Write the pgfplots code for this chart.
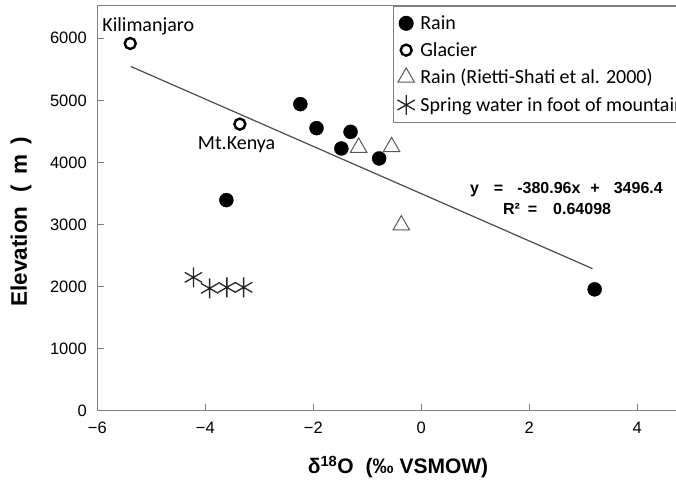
\documentclass[border=0pt]{standalone}
\usepackage{fontspec}
\setmainfont{Liberation Sans}
\newfontfamily\calib{Carlito}
\usepackage{pgfplots}
\pgfplotsset{compat=1.18}
\definecolor{axgray}{gray}{0.5}
\definecolor{trigray}{gray}{0.35}
\begin{document}
\begin{tikzpicture}[x=1pt,y=1pt]
\begin{axis}[
  at={(97.3pt,73.3pt)}, anchor=south west,
  scale only axis, width=578.7pt, height=405pt,
  xmin=-6, xmax=4.717, ymin=0, ymax=6525,
  axis x line=box, axis y line=left,
  axis line style={axgray, line width=1.1pt, -},
  xtick pos=bottom, ytick pos=left,
  tick align=inside, major tick length=7pt,
  tick style={axgray, line width=0.9pt},
  xtick={-6,-4,-2,0,2,4},
  xticklabels={−6,−4,−2,0,2,4},
  ytick={0,1000,2000,3000,4000,5000,6000},
  yticklabels={0,1000,2000,3000,4000,5000,6000},
  ticklabel style={font=\fontsize{16.5}{17}\selectfont},
  xticklabel style={yshift=-8pt},
  yticklabel style={xshift=-7pt},
  xlabel={\textbf{δ\textsuperscript{18}O\hspace{12pt}(‰ VSMOW)}},
  ylabel={\textbf{Elevation\hspace{14pt}(\hspace{10pt}m\hspace{10pt})}},
  xlabel style={font=\fontsize{21}{22}\selectfont, at={(axis description cs:0.5196,-0.139)}, anchor=center},
  ylabel style={font=\fontsize{22.5}{23}\selectfont, at={(axis description cs:-0.1318,0.466)}, anchor=center},
  legend cell align=left,
  legend style={at={(axis description cs:0.511,1)}, anchor=north west,
    draw=axgray, line width=1pt, font=\calib\fontsize{20}{21}\selectfont,
    inner xsep=4pt, inner ysep=7.5pt, row sep=7.5pt,
    /tikz/every odd column/.append style={column sep=3.5pt}},
  legend image code/.code={\draw[#1] plot coordinates {(0pt,0pt)};},
  clip=false,
]
\addplot[only marks, mark=*, mark size=7pt, black] coordinates {
 (-2.24,4939) (-1.94,4552) (-1.31,4493) (-1.48,4225) (-0.78,4064)
 (-3.61,3393) (3.21,1955)};
\addlegendentry{Rain}
\addplot[only marks, mark=o, mark size=5.5pt, line width=2.4pt, black] coordinates {
 (-5.39,5916) (-3.36,4617)};
\addlegendentry{Glacier}
\addplot[only marks, mark=triangle, mark size=9.5pt, line width=1pt, trigray] coordinates {
 (-1.16,4240) (-0.55,4250) (-0.37,2990)};
\addlegendentry{Rain (Rietti-Shati et al. 2000)}
\addplot[only marks, mark=asterisk, mark size=10pt, line width=1.3pt, black!85] coordinates {
 (-4.22,2148) (-3.92,1971) (-3.60,1987) (-3.29,1987)};
\addlegendentry{Spring water in foot of mountain}
\addplot[forget plot, line width=1.2pt, black!70, no marks] coordinates {(-5.38,5546) (3.17,2289)};
\node[anchor=west, font=\calib\fontsize{20}{20}\selectfont, inner sep=0pt] at (axis cs:-5.91,6198) {Kilimanjaro};
\node[anchor=west, font=\calib\fontsize{20}{20}\selectfont, inner sep=0pt] at (axis cs:-4.14,4280) {Mt.Kenya};
\node[anchor=west, font=\bfseries\fontsize{16}{16}\selectfont, inner sep=0pt] at (axis cs:0.90,3567)
 {y\hspace{15pt}=\hspace{14pt}-380.96x\hspace{10pt}+\hspace{14pt}3496.4};
\node[anchor=west, font=\bfseries\fontsize{16}{16}\selectfont, inner sep=0pt] at (axis cs:1.51,3249)
 {R²\hspace{8pt}=\hspace{16pt}0.64098};
\end{axis}
\pgfresetboundingbox
\path[use as bounding box] (0,0) rectangle (676,484);
\end{tikzpicture}
\end{document}
